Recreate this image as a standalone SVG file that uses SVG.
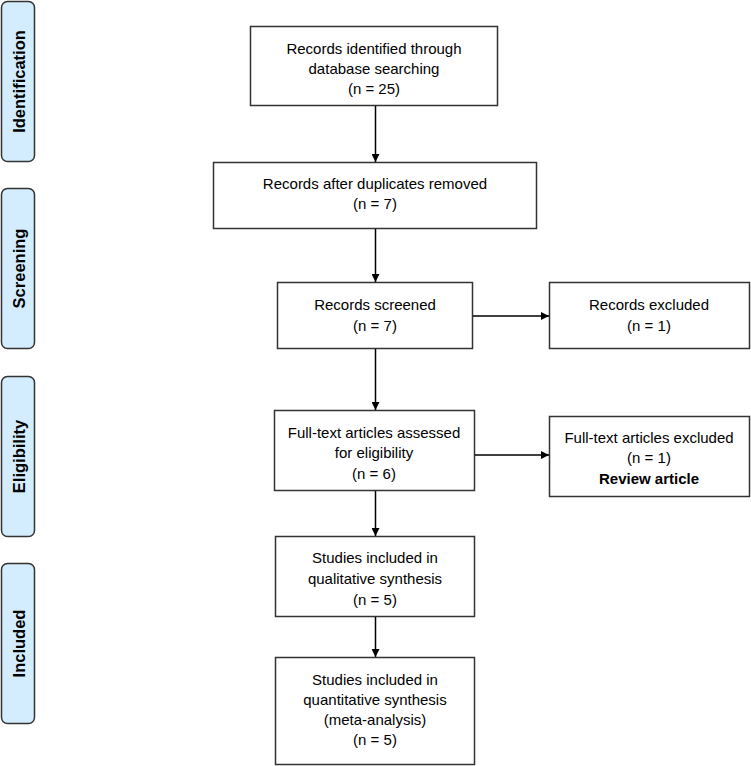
<svg xmlns="http://www.w3.org/2000/svg" width="751" height="766" viewBox="0 0 751 766">
<defs>
<style>
.box{fill:#fff;stroke:#333;stroke-width:1.5}
.phase{fill:#d3edff;stroke:#333;stroke-width:1.5}
.t{font-family:"Liberation Sans",Arial,sans-serif;font-size:15px;fill:#000;text-anchor:middle}
.b{font-weight:bold}
.pt{font-family:"Liberation Sans",Arial,sans-serif;font-size:16.5px;font-weight:bold;fill:#000;text-anchor:middle;dominant-baseline:central}
.c{stroke:#000;stroke-width:1.5;fill:none;marker-end:url(#ah)}
</style>
<marker id="ah" viewBox="0 0 10 10" refX="10" refY="5" markerWidth="8" markerHeight="8" markerUnits="userSpaceOnUse" orient="auto">
<path d="M0,0 L10,5 L0,10 z" fill="#000"/>
</marker>
</defs>
<rect width="751" height="766" fill="#fff"/>
<g id="phase-identification"><rect class="phase" x="1.5" y="1.5" width="33" height="160" rx="6"/><text class="pt" transform="translate(19,81.5) rotate(-90)">Identification</text></g>
<g id="phase-screening"><rect class="phase" x="1.5" y="188.5" width="33" height="160" rx="6"/><text class="pt" transform="translate(19,268.5) rotate(-90)">Screening</text></g>
<g id="phase-eligibility"><rect class="phase" x="1.5" y="376.5" width="33" height="160" rx="6"/><text class="pt" transform="translate(19,456.5) rotate(-90)">Eligibility</text></g>
<g id="phase-included"><rect class="phase" x="1.5" y="563.5" width="33" height="160" rx="6"/><text class="pt" transform="translate(19,643.5) rotate(-90)">Included</text></g>

<g id="identified"><rect class="box" x="250.5" y="26.5" width="247" height="79"/>
<text class="t" x="374" y="54">Records identified through</text>
<text class="t" x="374" y="74">database searching</text>
<text class="t" x="374" y="94">(n = 25)</text></g>

<g id="duplicates"><rect class="box" x="213.5" y="162.5" width="323" height="66"/>
<text class="t" x="375" y="189">Records after duplicates removed</text>
<text class="t" x="375" y="209">(n = 7)</text></g>

<g id="screened"><rect class="box" x="277.5" y="282.5" width="195" height="66"/>
<text class="t" x="375" y="310">Records screened</text>
<text class="t" x="375" y="331">(n = 7)</text></g>

<g id="excluded"><rect class="box" x="549.5" y="282.5" width="200" height="66"/>
<text class="t" x="649" y="310">Records excluded</text>
<text class="t" x="649" y="331">(n = 1)</text></g>

<g id="fulltext"><rect class="box" x="274.5" y="410.5" width="200" height="80"/>
<text class="t" x="374" y="438">Full-text articles assessed</text>
<text class="t" x="374" y="458">for eligibility</text>
<text class="t" x="374" y="479">(n = 6)</text></g>

<g id="fulltext-excluded"><rect class="box" x="549.5" y="416.5" width="200" height="80"/>
<text class="t" x="649" y="443">Full-text articles excluded</text>
<text class="t" x="649" y="463">(n = 1)</text>
<text class="t b" x="649" y="484">Review article</text></g>

<g id="qualitative"><rect class="box" x="275.5" y="536.5" width="199" height="80"/>
<text class="t" x="375" y="563">Studies included in</text>
<text class="t" x="375" y="584">qualitative synthesis</text>
<text class="t" x="375" y="605">(n = 5)</text></g>

<g id="quantitative"><rect class="box" x="275.5" y="657.5" width="199" height="107"/>
<text class="t" x="375" y="685">Studies included in</text>
<text class="t" x="375" y="705">quantitative synthesis</text>
<text class="t" x="375" y="725">(meta-analysis)</text>
<text class="t" x="375" y="745">(n = 5)</text></g>

<g id="connectors">
<line class="c" x1="375.5" y1="106" x2="375.5" y2="162"/>
<line class="c" x1="375.5" y1="229" x2="375.5" y2="282"/>
<line class="c" x1="473" y1="316" x2="549" y2="316"/>
<line class="c" x1="375.5" y1="349" x2="375.5" y2="410"/>
<line class="c" x1="475" y1="455" x2="549" y2="455"/>
<line class="c" x1="375.5" y1="491" x2="375.5" y2="536"/>
<line class="c" x1="375.5" y1="617" x2="375.5" y2="657"/>
</g>
</svg>
